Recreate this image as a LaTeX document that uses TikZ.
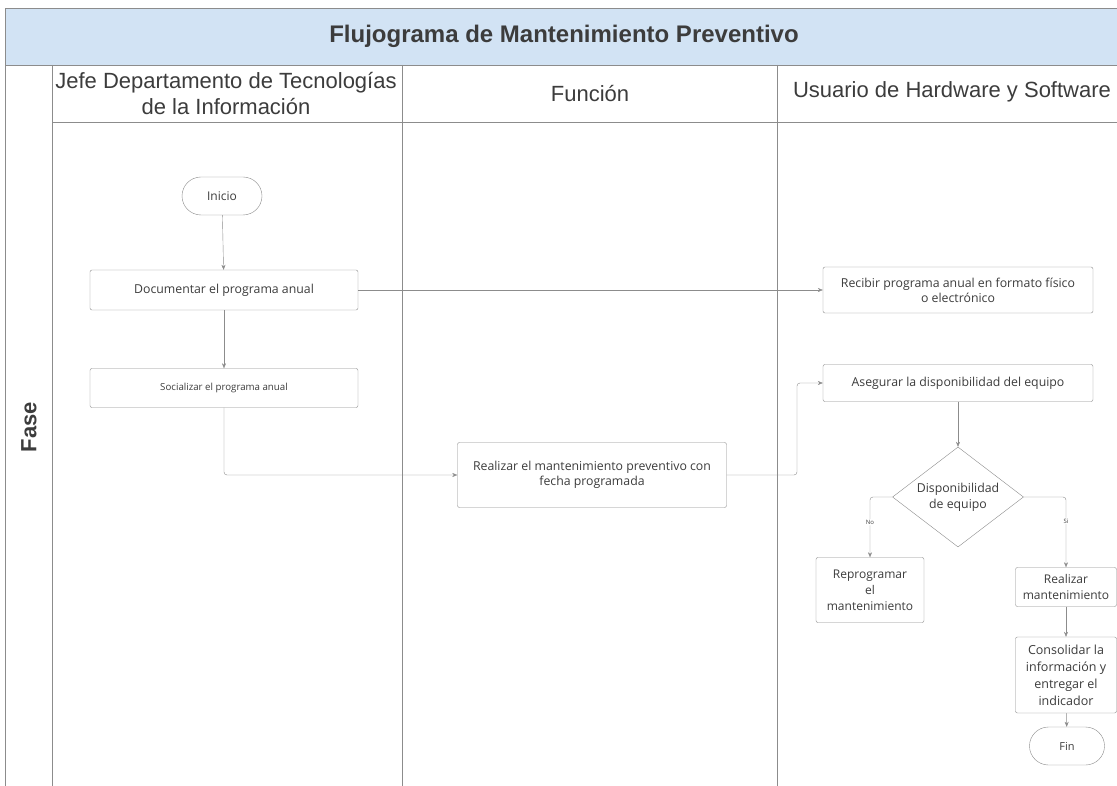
\documentclass[tikz,border=0pt]{standalone}
\usepackage{fontspec}
\setmainfont{Liberation Sans}
\newfontfamily\stepfont{Open Sans}
\usetikzlibrary{positioning,shapes.geometric,arrows.meta}
\definecolor{bandblue}{HTML}{D2E3F4}
\definecolor{linegrey}{HTML}{8C8C8C}
\definecolor{txtgrey}{HTML}{3C3C3C}

\begin{document}
\begin{tikzpicture}[x=1pt,y=-1pt,
  proc/.style={draw=linegrey, rounded corners=2pt, align=center, text=txtgrey,
    font=\stepfont\fontsize{12.3}{15}\selectfont, inner sep=2pt},
  term/.style={draw=linegrey, rounded corners=19pt, text=txtgrey,
    font=\stepfont\fontsize{12}{14}\selectfont, minimum height=38pt},
  decision/.style={draw=linegrey, diamond, aspect=1.31, inner sep=0pt, align=center,
    text=txtgrey, font=\stepfont\fontsize{12.3}{16}\selectfont, minimum width=131pt, minimum height=100pt},
  flow/.style={draw=linegrey, rounded corners=3pt, -{Stealth[length=5pt,width=4pt]}},
  lanehead/.style={text=txtgrey, align=center, font=\fontsize{22}{26}\selectfont},
  branch/.style={fill=white, text=txtgrey, inner sep=1pt, font=\stepfont\fontsize{6}{7}\selectfont}]
  \useasboundingbox (0,0) rectangle (1117,786);
  \fill[white] (0,0) rectangle (1117,786);

  % pool and lanes
  \fill[bandblue] (5,8) rectangle (1117,65);
  \draw[linegrey] (1117,8) -- (5,8) -- (5,786);
  \draw[linegrey] (5,65) -- (1117,65);
  \draw[linegrey] (52,122) -- (1117,122);
  \draw[linegrey] (52,65) -- (52,786);
  \draw[linegrey] (402,65) -- (402,786);
  \draw[linegrey] (777,65) -- (777,786);
  \node[text=txtgrey, font=\bfseries\fontsize{24}{28}\selectfont] (title) at (564,36) {Flujograma de Mantenimiento Preventivo};
  \node[lanehead] (jefe) at (226,94) {Jefe Departamento de Tecnologías\\de la Información};
  \node[lanehead] (funcion) at (590,94) {Función};
  \node[lanehead] (usuario) at (952,92) {Usuario de Hardware y Software};
  \node[text=txtgrey, rotate=90, font=\bfseries\fontsize{22}{26}\selectfont] (fase) at (29,427) {Fase};

  % steps
  \node[term, minimum width=80pt] (inicio) at (222,196) {Inicio};
  \node[proc, minimum width=268pt, minimum height=40pt] (doc) at (224,290) {Documentar el programa anual};
  \node[proc, minimum width=268pt, minimum height=39pt, font=\stepfont\fontsize{9.7}{12}\selectfont] (soc) at (224,388) {Socializar el programa anual};
  \node[proc, minimum width=269pt, minimum height=65pt] (mantprev) at (592,475) {Realizar el mantenimiento preventivo con\\fecha programada};
  \node[proc, minimum width=270pt, minimum height=46pt] (recibir) at (958,290) {Recibir programa anual en formato físico\\o electrónico};
  \node[proc, minimum width=270pt, minimum height=37pt] (asegurar) at (958,383) {Asegurar la disponibilidad del equipo};
  \node[decision] (disp) at (958,497) {Disponibilidad\\de equipo};
  \node[proc, minimum width=108pt, minimum height=65pt, font=\stepfont\fontsize{12}{16}\selectfont] (reprog) at (870,590) {Reprogramar\\el\\mantenimiento};
  \node[proc, minimum width=101pt, minimum height=39pt, font=\stepfont\fontsize{12}{16}\selectfont] (mant) at (1066,587) {Realizar\\mantenimiento};
  \node[proc, minimum width=101pt, minimum height=76pt, font=\stepfont\fontsize{12.5}{17}\selectfont] (consol) at (1066,675) {Consolidar la\\información y\\entregar el\\indicador};
  \node[term, minimum width=75pt, font=\stepfont\fontsize{11}{13}\selectfont] (fin) at (1067,746) {Fin};

  \coordinate (bend) at (797,475);

  % connectors
  \draw[flow] (inicio) -- (doc);
  \draw[flow] (doc) -- (soc);
  \draw[flow] (doc.east) -- (recibir.west);
  \draw[flow] (soc.south) |- (mantprev.west);
  \draw[flow] (mantprev.east) -- (bend) |- (asegurar.west);
  \draw[flow] (asegurar) -- (disp);
  \draw[flow] (disp.west) -| node[branch, pos=0.71] {No} (reprog.north);
  \draw[flow] (disp.east) -| node[branch, pos=0.67] {Si} (mant.north);
  \draw[flow] (mant) -- (consol);
  \draw[flow] (consol) -- (fin);
\end{tikzpicture}
\end{document}
